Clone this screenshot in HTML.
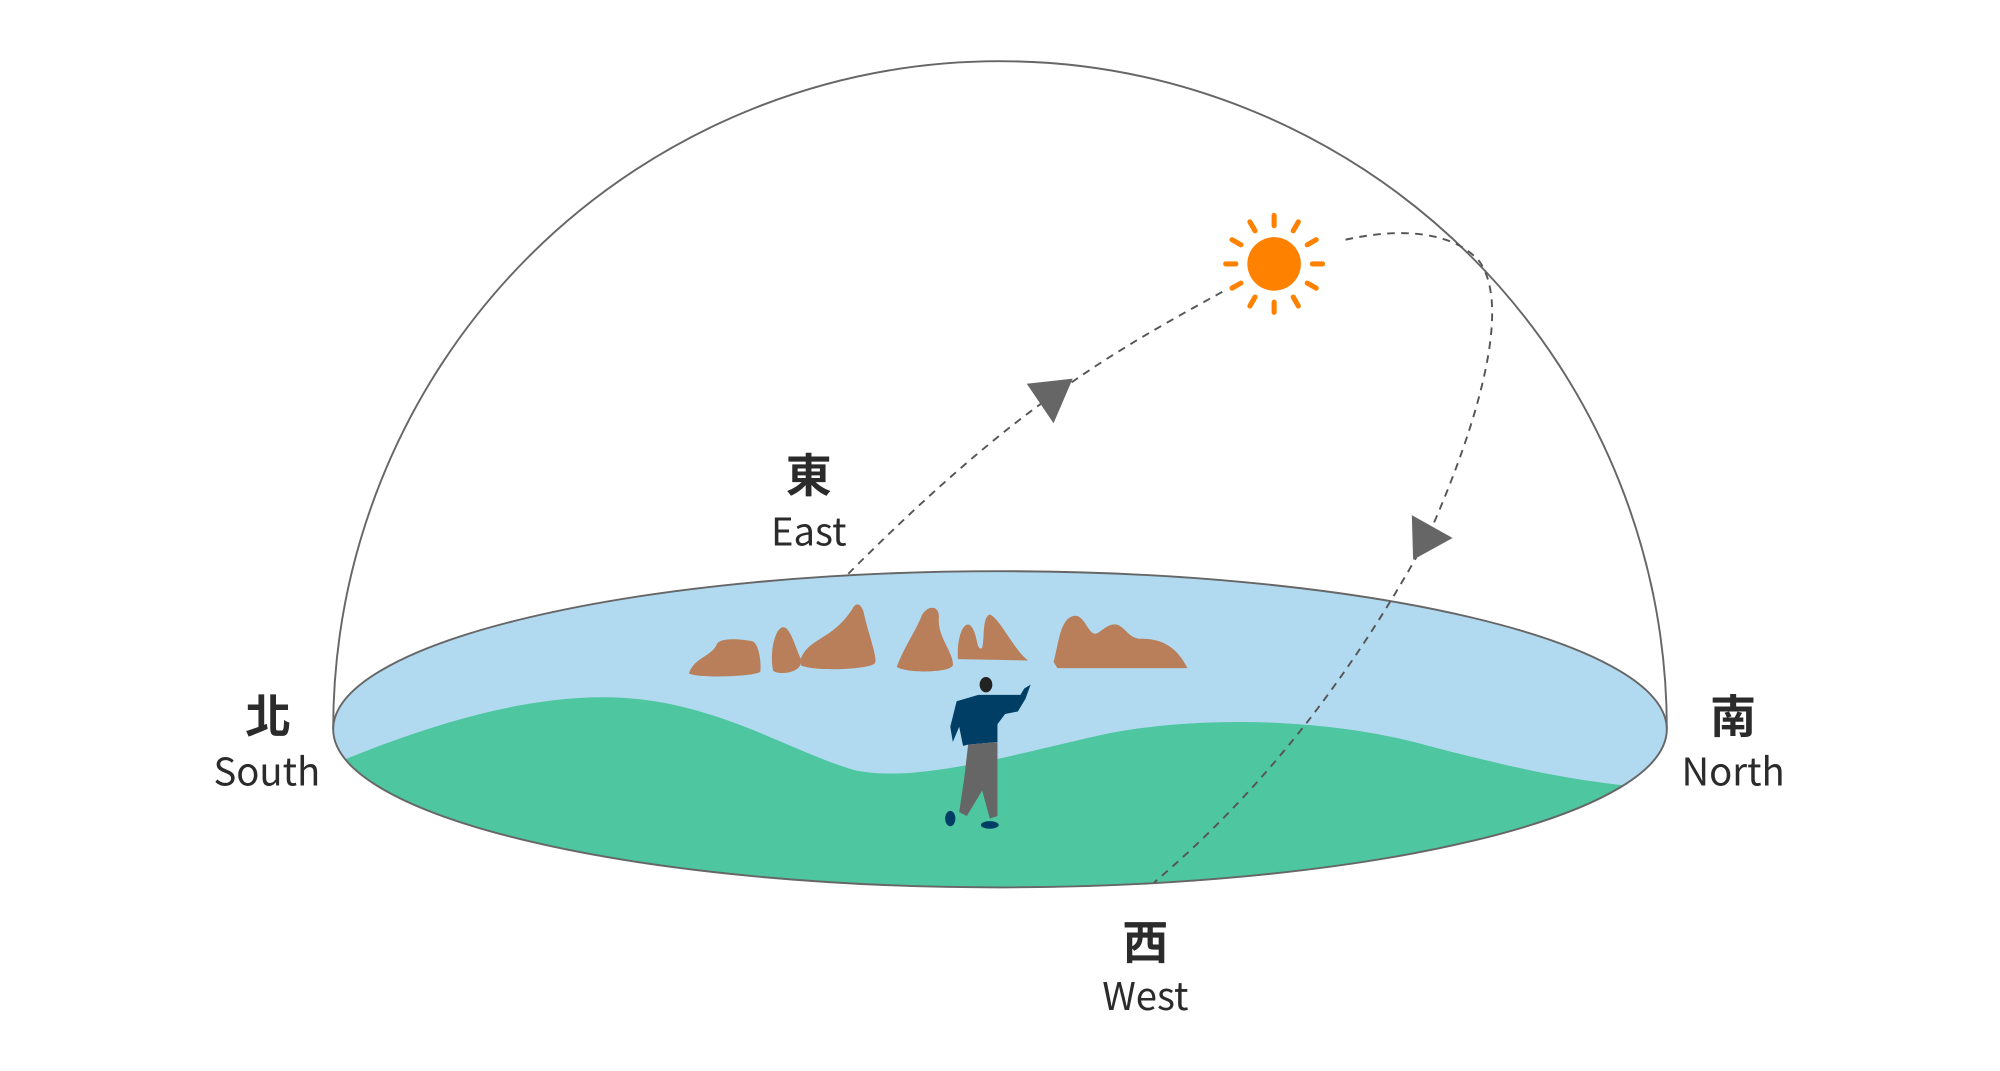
<!DOCTYPE html>
<html><head><meta charset="utf-8"><style>
html,body{margin:0;padding:0;background:#fff;width:2000px;height:1071px;overflow:hidden}
svg{display:block}
text{font-family:"Noto Sans CJK TC","Liberation Sans",sans-serif;fill:#2b2b2b;text-anchor:middle}
</style></head><body>
<svg width="2000" height="1071" viewBox="0 0 1568 840" xmlns="http://www.w3.org/2000/svg">
<defs><clipPath id="c"><ellipse cx="784" cy="572" rx="523" ry="124"/></clipPath></defs>
<path d="M261,572 A523,524 0 0 1 1307,572" fill="none" stroke="#666" stroke-width="1.5"/>
<ellipse cx="784" cy="572" rx="523" ry="124" fill="#b1daf0"/>
<g clip-path="url(#c)">
<path d="M255,602 C330,570 410,545 480,547 C560,549 620,590 670,604 C720,615 800,590 870,575 C950,560 1050,565 1120,585 C1190,603 1240,615 1320,620 L1320,720 L250,720 Z" fill="#4ec69f"/>
</g>
<ellipse cx="784" cy="572" rx="523" ry="124" fill="none" stroke="#666" stroke-width="1.5"/>
<g fill="#b87f5a">
<path d="M540,528 C545,515 558,515 562,505 C565,500 580,501 590,503 C595,505 597,520 596,527 C590,531 545,532 540,528Z"/>
<path d="M606,526 C603,510 608,492 614,492 C620,492 624,510 628,517 C630,528 610,530 606,526Z"/>
<path d="M628,516 C635,500 652,502 668,478 C672,470 676,476 677,480 C680,495 688,515 686,520 C683,525 640,527 628,522Z"/>
<path d="M703,523 C710,505 718,495 723,482 C728,474 737,475 736,485 C735,500 748,512 747,522 C744,528 710,528 703,523Z"/>
<path d="M751,517 C750,500 755,488 760,490 C767,495 765,512 770,508 C772,500 770,484 776,482 C784,485 795,510 806,518 Z"/>
<path d="M826,519 C830,505 831,485 842,483 C850,482 852,495 858,497 C862,498 868,488 876,490 C882,492 885,500 893,501 C915,500 925,512 931,524 L829,524Z"/>
</g>
<g>
<ellipse cx="773" cy="537" rx="5" ry="6" fill="#222"/>
<path d="M767,545 L776,545 L800,545 L803,540 L808,537 L804,548 L798,558 L788,560 L782,568 L782,582 L759,584 L755,585 L752,570 L747,582 L745,570 L750,550 Z" fill="#003e66"/>
<path d="M759,584 L782,582 L782,640 L776,642 L770,620 L758,640 L752,637 L756,610 Z" fill="#666"/>
<ellipse cx="745" cy="642" rx="4" ry="6" fill="#003e66"/>
<ellipse cx="776" cy="647" rx="7" ry="3" fill="#003e66"/>
</g>
<path d="M665,450 C720,395 780,340 840,300 C880,272 920,250 960,228" fill="none" stroke="#555" stroke-width="1.5" stroke-dasharray="6,5"/>
<path d="M1055,188 C1100,178 1140,182 1160,205 C1185,240 1160,330 1120,420 C1060,530 990,620 905,692" fill="none" stroke="#555" stroke-width="1.5" stroke-dasharray="6,5"/>
<polygon points="805,301 841,297 826,332" fill="#666"/>
<polygon points="1107,404 1139,422 1108,439" fill="#666"/>
<circle cx="999" cy="207" r="21" fill="#ff8100"/>
<g stroke="#ff8100" stroke-width="4" stroke-linecap="round">
<line x1="999" y1="169" x2="999" y2="177"/><line x1="999" y1="237" x2="999" y2="245"/>
<line x1="961" y1="207" x2="969" y2="207"/><line x1="1029" y1="207" x2="1037" y2="207"/>
<line x1="980" y1="174" x2="984" y2="181"/><line x1="1014" y1="233" x2="1018" y2="240"/>
<line x1="966" y1="188" x2="973" y2="192"/><line x1="1025" y1="222" x2="1032" y2="226"/>
<line x1="1018" y1="174" x2="1014" y2="181"/><line x1="984" y1="233" x2="980" y2="240"/>
<line x1="1032" y1="188" x2="1025" y2="192"/><line x1="973" y1="222" x2="966" y2="226"/>
</g>
<text x="634" y="386" font-size="36" font-weight="bold">東</text>
<text x="634" y="428" font-size="30">East</text>
<text x="210" y="575" font-size="36" font-weight="bold">北</text>
<text x="209" y="616" font-size="30">South</text>
<text x="1359" y="575" font-size="36" font-weight="bold">南</text>
<text x="1359" y="616" font-size="30">North</text>
<text x="898" y="752" font-size="36" font-weight="bold">西</text>
<text x="898" y="792" font-size="30">West</text>
</svg>
</body></html>
